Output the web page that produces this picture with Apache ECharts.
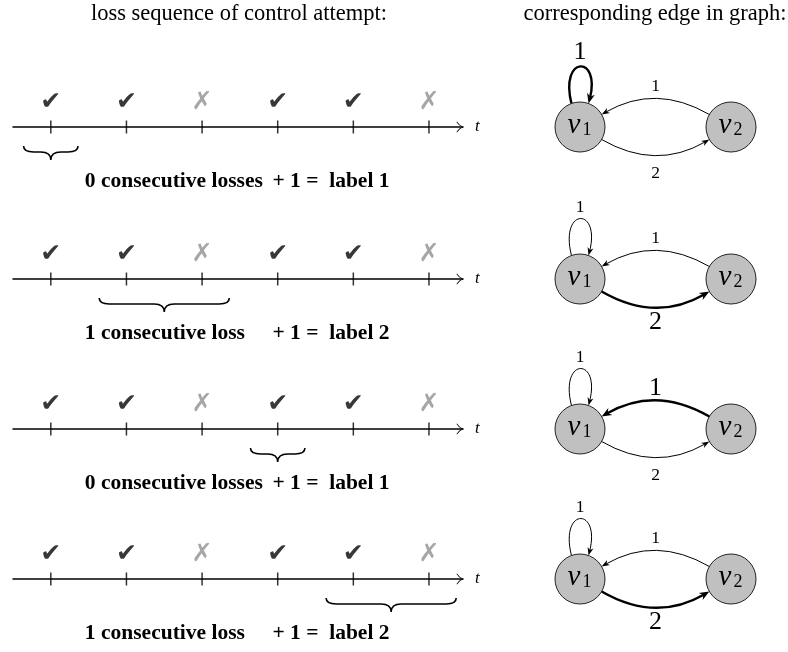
<!DOCTYPE html>
<html>
<head>
<meta charset="utf-8">
<script src="https://cdn.jsdelivr.net/npm/echarts@6/dist/echarts.min.js"></script>
<style>
  html, body { margin: 0; padding: 0; background: #fff; }
  #main { width: 788px; height: 652px; }
</style>
</head>
<body>
<div id="main"></div>
<script>
const SERIF = '"Liberation Serif", "DejaVu Serif", serif';

// control attempts on the time axis (same sequence in every row)
const attempts = [0, 1, 2, 3, 4, 5];
const outcomes = ['ok', 'ok', 'lost', 'ok', 'ok', 'lost'];

// one entry per row: brace span under the axis and the text below it
const braceSpans = [[-0.36, 0.36], [0.64, 2.36], [2.64, 3.36], [3.64, 5.36]];
const lossTexts = ['0 consecutive losses', '1 consecutive loss', '0 consecutive losses', '1 consecutive loss'];
const labelTexts = ['+ 1 =  label 1', '+ 1 =  label 2', '+ 1 =  label 1', '+ 1 =  label 2'];

// the graph: two nodes, three weighted edges, one highlighted per row
const nodeNames = ['1', '2'];
const nodeX = [0, 1];
const edgeFrom = [0, 1, 0];
const edgeTo = [0, 0, 1];
const edgeWeights = [1, 1, 2];
const activeEdge = [0, 2, 1, 2];

// layout
const rowY = [127, 279, 429, 579];
const NODE_R = 25;
const arrowPath = 'path://M5.5,0 Q4,4 0,6.5 L0.6,7 Q4.6,4.6 5.5,1.6 Q6.4,4.6 10.4,7 L11,6.5 Q7,4 5.5,0 Z';

let myChart = echarts.init(document.getElementById('main'));

function norm(v) {
  const l = Math.hypot(v[0], v[1]);
  return [v[0] / l, v[1] / l];
}

function polar(c, r, deg) {
  const a = deg * Math.PI / 180;
  return [c[0] + r * Math.cos(a), c[1] - r * Math.sin(a)];
}

function arrowHead(tip, d, len, wid) {
  const px = -d[1], py = d[0];
  const bx = tip[0] - d[0] * len, by = tip[1] - d[1] * len;
  const nx = tip[0] - d[0] * len * 0.7, ny = tip[1] - d[1] * len * 0.7;
  return {
    type: 'polygon',
    shape: { points: [tip, [bx + px * wid / 2, by + py * wid / 2], [nx, ny], [bx - px * wid / 2, by - py * wid / 2]] },
    style: { fill: '#000' }
  };
}

function renderEdge(params, api) {
  const from = api.coord([api.value(0), 0]);
  const to = api.coord([api.value(1), 0]);
  const weight = api.value(2);
  const active = api.value(3) === 1;
  const lw = active ? 2.4 : 1;
  const hl = active ? 10 : 8, hw = active ? 8 : 6;
  const fs = active ? 26 : 17.5;
  let path, head, lx, ly;

  if (api.value(0) === api.value(1)) {
    // self loop above the node
    const p0 = polar(from, NODE_R, 110);
    const p3 = polar(from, NODE_R, 70);
    const p1 = polar(p0, 50, 104);
    const p2 = polar(p3, 50, 76);
    const d = norm([p3[0] - p2[0], p3[1] - p2[1]]);
    const e = [p3[0] - d[0] * hl * 0.6, p3[1] - d[1] * hl * 0.6];
    path = `M${p0[0]},${p0[1]} C${p1[0]},${p1[1]} ${p2[0]},${p2[1]} ${e[0]},${e[1]}`;
    head = arrowHead(p3, d, hl, hw);
    lx = from[0];
    ly = from[1] - (active ? 75 : 72);
  } else {
    const dist = Math.hypot(to[0] - from[0], to[1] - from[1]);
    const dir = norm([to[0] - from[0], to[1] - from[1]]);
    const n = [-dir[1], dir[0]];
    const mid = [(from[0] + to[0]) / 2, (from[1] + to[1]) / 2];
    const off = dist / 2 * Math.tan(30 * Math.PI / 180);
    const c = [mid[0] + n[0] * off, mid[1] + n[1] * off];
    const s = norm([c[0] - from[0], c[1] - from[1]]);
    const t = norm([c[0] - to[0], c[1] - to[1]]);
    const start = [from[0] + NODE_R * s[0], from[1] + NODE_R * s[1]];
    const tip = [to[0] + NODE_R * t[0], to[1] + NODE_R * t[1]];
    const d = norm([tip[0] - c[0], tip[1] - c[1]]);
    const e = [tip[0] - d[0] * hl * 0.6, tip[1] - d[1] * hl * 0.6];
    path = `M${start[0]},${start[1]} Q${c[0]},${c[1]} ${e[0]},${e[1]}`;
    head = arrowHead(tip, d, hl, hw);
    const lo = n[1] < 0 ? 41 : (active ? 43 : 46);
    lx = mid[0] + n[0] * lo;
    ly = mid[1] + n[1] * lo;
  }

  return {
    type: 'group',
    children: [
      { type: 'path', shape: { pathData: path }, style: { fill: 'none', stroke: '#000', lineWidth: lw } },
      head,
      {
        type: 'text', x: lx, y: ly,
        style: { text: String(weight), fontFamily: SERIF, fontSize: fs, fill: '#000', align: 'center', verticalAlign: 'middle' }
      }
    ]
  };
}

function renderNode(params, api) {
  const c = api.coord([api.value(0), api.value(1)]);
  return {
    type: 'group',
    children: [
      { type: 'circle', shape: { cx: c[0], cy: c[1], r: NODE_R }, style: { fill: '#c0c0c0', stroke: '#222', lineWidth: 1 } },
      {
        type: 'text', x: c[0] - 6, y: c[1] - 2,
        style: { text: 'v', fontFamily: SERIF, fontStyle: 'italic', fontSize: 29, fill: '#000', align: 'center', verticalAlign: 'middle' }
      },
      {
        type: 'text', x: c[0] + 7, y: c[1] + 3,
        style: { text: nodeNames[api.value(2)], fontFamily: SERIF, fontSize: 18, fill: '#000', align: 'center', verticalAlign: 'middle' }
      }
    ]
  };
}

const grids = [], xAxes = [], yAxes = [], series = [];

rowY.forEach(function (y, r) {
  const gl = 2 * r, gr = 2 * r + 1;
  grids.push({ left: 13, width: 450, top: y - 60, height: 120 });
  grids.push({ left: 580, width: 151, top: y - 60, height: 120 });

  xAxes.push({
    gridIndex: gl, type: 'value', min: -0.5, max: 5.45,
    name: 't', nameLocation: 'end', nameGap: 12,
    nameTextStyle: { fontFamily: SERIF, fontStyle: 'italic', fontSize: 17, color: '#000' },
    axisLine: {
      show: true, onZero: true,
      symbol: ['none', arrowPath], symbolSize: [11, 7], symbolOffset: [0, -3],
      lineStyle: { color: '#000', width: 1.5 }
    },
    axisTick: { show: false }, axisLabel: { show: false }, splitLine: { show: false }
  });
  yAxes.push({ gridIndex: gl, type: 'value', min: -1.2, max: 1.2, show: false });
  xAxes.push({ gridIndex: gr, type: 'value', min: 0, max: 1, show: false });
  yAxes.push({ gridIndex: gr, type: 'value', min: -1.2, max: 1.2, show: false });

  // ticks crossing the time axis
  series.push({
    type: 'scatter', xAxisIndex: gl, yAxisIndex: gl, silent: true,
    symbol: 'rect', symbolSize: [1.5, 13], itemStyle: { color: '#000' },
    data: attempts.map(a => [a, 0])
  });

  // success / loss marks
  series.push({
    type: 'custom', xAxisIndex: gl, yAxisIndex: gl, silent: true,
    data: attempts.map((a, i) => [a, 0.5, outcomes[i] === 'ok' ? 1 : 0]),
    renderItem: function (params, api) {
      const p = api.coord([api.value(0), api.value(1)]);
      const ok = api.value(2) === 1;
      return {
        type: 'text', x: p[0], y: p[1],
        style: {
          text: ok ? '\u2714' : '\u2717', fill: ok ? '#383838' : '#a6a6a6',
          fontFamily: 'DejaVu Sans', fontSize: 25, align: 'center', verticalAlign: 'middle'
        }
      };
    }
  });

  // brace and explanation text
  series.push({
    type: 'custom', xAxisIndex: gl, yAxisIndex: gl, silent: true,
    data: [braceSpans[r]],
    renderItem: function (params, api) {
      const a = api.coord([api.value(0), -0.38]);
      const b = api.coord([api.value(1), -0.38]);
      const midY = api.coord([0, -0.5])[1];
      const botY = api.coord([0, -0.66])[1];
      const tx = (a[0] + b[0]) / 2;
      const q = Math.min(10, (b[0] - a[0]) / 4);
      const d = `M${a[0]},${a[1]} Q${a[0]},${midY} ${a[0] + q},${midY} L${tx - q},${midY} ` +
        `Q${tx},${midY} ${tx},${botY} Q${tx},${midY} ${tx + q},${midY} L${b[0] - q},${midY} ` +
        `Q${b[0]},${midY} ${b[0]},${b[1]}`;
      const t1 = api.coord([0.45, -1.08]);
      const t2 = api.coord([2.93, -1.08]);
      const ts = { fontFamily: SERIF, fontWeight: 'bold', fontSize: 21.5, fill: '#000', align: 'left', verticalAlign: 'middle' };
      return {
        type: 'group',
        children: [
          { type: 'path', shape: { pathData: d }, style: { fill: 'none', stroke: '#000', lineWidth: 1.6 } },
          { type: 'text', x: t1[0], y: t1[1], style: Object.assign({ text: lossTexts[r] }, ts) },
          { type: 'text', x: t2[0], y: t2[1], style: Object.assign({ text: labelTexts[r] }, ts) }
        ]
      };
    }
  });

  // graph edges
  series.push({
    type: 'custom', xAxisIndex: gr, yAxisIndex: gr, silent: true,
    data: edgeWeights.map((w, i) => [nodeX[edgeFrom[i]], nodeX[edgeTo[i]], w, i === activeEdge[r] ? 1 : 0]),
    renderItem: renderEdge
  });

  // graph nodes
  series.push({
    type: 'custom', xAxisIndex: gr, yAxisIndex: gr, silent: true,
    data: nodeX.map((x, i) => [x, 0, i]),
    renderItem: renderNode
  });
});

let option = {
  animation: false,
  graphic: [
    {
      type: 'text', x: 239, y: 14,
      style: { text: 'loss sequence of control attempt:', fontFamily: SERIF, fontSize: 22.5, fill: '#000', align: 'center', verticalAlign: 'middle' }
    },
    {
      type: 'text', x: 655, y: 14,
      style: { text: 'corresponding edge in graph:', fontFamily: SERIF, fontSize: 22.5, fill: '#000', align: 'center', verticalAlign: 'middle' }
    }
  ],
  grid: grids,
  xAxis: xAxes,
  yAxis: yAxes,
  series: series
};

option && myChart.setOption(option);
</script>
</body>
</html>
